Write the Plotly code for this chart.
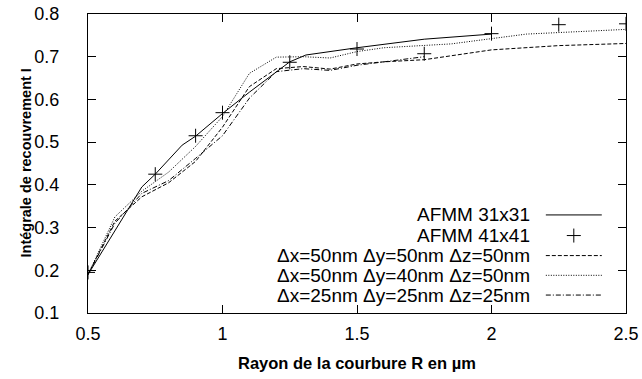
import plotly.graph_objects as go

# ---- data ----
r_afmm31 = [0.5, 0.7, 0.75, 0.85, 0.9, 1.0, 1.1, 1.25, 1.31, 1.5, 1.75, 2.0]
i_afmm31 = [0.19, 0.395, 0.425, 0.493, 0.514, 0.567, 0.617, 0.688, 0.704, 0.721, 0.741, 0.753]

r_afmm41 = [0.5, 0.75, 0.9, 1.0, 1.25, 1.5, 1.75, 2.0, 2.25, 2.5]
i_afmm41 = [0.195, 0.425, 0.515, 0.569, 0.687, 0.718, 0.707, 0.754, 0.775, 0.777]

r_d505050 = [0.5, 0.6, 0.7, 0.8, 0.9, 1.0, 1.1, 1.2, 1.3, 1.4, 1.5, 1.6, 1.75, 2.0, 2.25, 2.5]
i_d505050 = [0.19, 0.315, 0.372, 0.405, 0.455, 0.535, 0.63, 0.672, 0.677, 0.671, 0.683, 0.688, 0.693, 0.716, 0.726, 0.731]

r_d504050 = [0.5, 0.6, 0.7, 0.8, 0.9, 1.0, 1.1, 1.2, 1.3, 1.4, 1.5, 1.6, 1.85, 2.0, 2.13, 2.5]
i_d504050 = [0.19, 0.325, 0.385, 0.43, 0.49, 0.56, 0.661, 0.699, 0.700, 0.697, 0.712, 0.721, 0.730, 0.743, 0.753, 0.764]

r_d252525 = [0.5, 0.6, 0.7, 0.8, 0.9, 1.0, 1.1, 1.2, 1.3, 1.4, 1.5, 1.6, 1.75]
i_d252525 = [0.19, 0.31, 0.38, 0.41, 0.462, 0.515, 0.603, 0.665, 0.672, 0.668, 0.68, 0.688, 0.70]

series_names = [
    "AFMM 31x31",
    "AFMM 41x41",
    "Δx=50nm Δy=50nm Δz=50nm",
    "Δx=50nm Δy=40nm Δz=50nm",
    "Δx=25nm Δy=25nm Δz=25nm",
]
x_ticks = [0.5, 1, 1.5, 2, 2.5]
x_tick_labels = ["0.5", "1", "1.5", "2", "2.5"]
y_ticks = [0.1, 0.2, 0.3, 0.4, 0.5, 0.6, 0.7, 0.8]
y_tick_labels = ["0.1", "0.2", "0.3", "0.4", "0.5", "0.6", "0.7", "0.8"]
x_title = "Rayon de la courbure R en µm"
y_title = "Intégrale de recouvrement I"

# ---- styles ----
FONT = "Liberation Sans, Arial, sans-serif"
dashes = ["solid", None, "4px,2px", "1px,1.5px", "5px,2px,1px,2px"]
cross = dict(symbol="cross-thin", size=10, color="black", line=dict(color="black", width=1))

fig = go.Figure()

fig.add_trace(go.Scatter(x=r_afmm31, y=i_afmm31, mode="lines",
                         line=dict(color="black", width=1, dash=dashes[0]), showlegend=False))
fig.add_trace(go.Scatter(x=r_afmm41, y=i_afmm41, mode="markers", marker=cross, showlegend=False))
fig.add_trace(go.Scatter(x=r_d505050, y=i_d505050, mode="lines",
                         line=dict(color="black", width=1, dash=dashes[2]), showlegend=False))
fig.add_trace(go.Scatter(x=r_d504050, y=i_d504050, mode="lines",
                         line=dict(color="black", width=1, dash=dashes[3]), showlegend=False))
fig.add_trace(go.Scatter(x=r_d252525, y=i_d252525, mode="lines",
                         line=dict(color="black", width=1, dash=dashes[4]), showlegend=False))

# ---- gnuplot-style key (text right-aligned, sample to the right) ----
key_rows = [0.328, 0.259, 0.192, 0.126, 0.060]
key_text_x = 0.825
key_x0, key_x1 = 0.851, 0.955
for k, name in enumerate(series_names):
    fig.add_annotation(x=key_text_x, y=key_rows[k], xref="paper", yref="paper",
                       text=name, showarrow=False, xanchor="right", yanchor="middle",
                       font=dict(family=FONT, size=19, color="black"))
    if k == 1:
        fig.add_trace(go.Scatter(x=[(key_x0 + key_x1) / 2], y=[key_rows[k]], mode="markers",
                                 xaxis="x2", yaxis="y2", marker=cross,
                                 showlegend=False, hoverinfo="skip"))
    else:
        fig.add_shape(type="line", xref="paper", yref="paper",
                      x0=key_x0, x1=key_x1, y0=key_rows[k], y1=key_rows[k],
                      line=dict(color="black", width=1, dash=dashes[k]))

# axis titles
fig.add_annotation(x=0.5, y=0, xref="paper", yref="paper", text=x_title, showarrow=False,
                   xanchor="center", yanchor="middle", yshift=-50,
                   font=dict(family=FONT, size=16.5, color="black", weight="bold"))
fig.add_annotation(x=0, y=0.5, xref="paper", yref="paper", text=y_title, showarrow=False,
                   xanchor="center", yanchor="middle", xshift=-63, textangle=-90,
                   font=dict(family=FONT, size=14.5, color="black", weight="bold"))

axis_common = dict(
    showgrid=False, zeroline=False, showline=True, linecolor="black", linewidth=1,
    mirror="ticks", ticks="inside", ticklen=8, tickwidth=1, tickcolor="black",
    tickfont=dict(family=FONT, size=18, color="black"), automargin=False,
)

fig.update_layout(
    width=642, height=379,
    margin=dict(l=88, r=16, t=14, b=66),
    paper_bgcolor="white", plot_bgcolor="white",
    showlegend=False,
    xaxis=dict(range=[0.5, 2.5], tickvals=x_ticks, ticktext=x_tick_labels,
               ticklabelstandoff=4, **axis_common),
    yaxis=dict(range=[0.1, 0.8], tickvals=y_ticks, ticktext=y_tick_labels,
               ticklabelstandoff=24, **axis_common),
    xaxis2=dict(overlaying="x", range=[0, 1], visible=False),
    yaxis2=dict(overlaying="y", range=[0, 1], visible=False),
)

# remove the browser's default 8px body margin so the figure fills the window
fig.write_html("out.html", config={"displayModeBar": False},
               post_script="document.body.style.margin='0';")
